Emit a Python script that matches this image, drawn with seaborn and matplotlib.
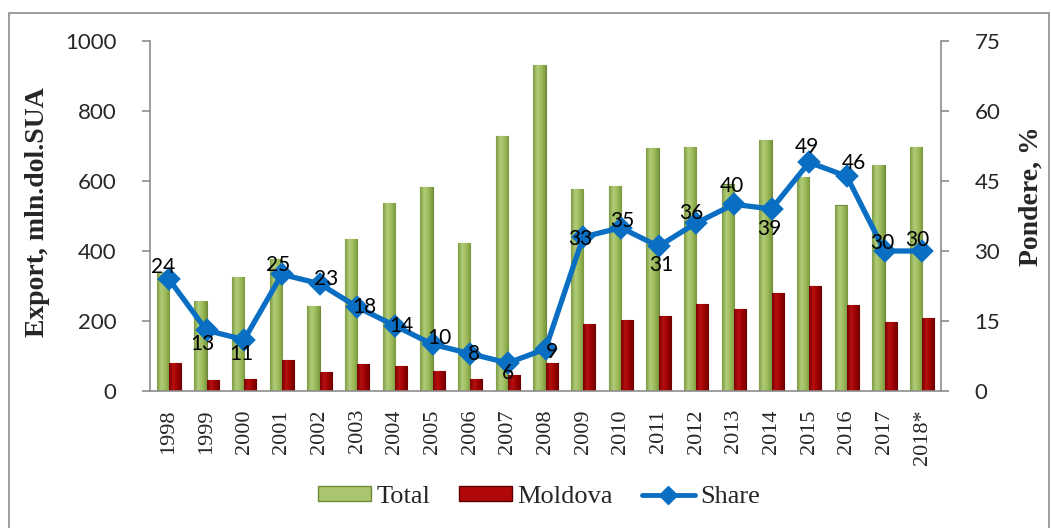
import numpy as np
import pandas as pd
import matplotlib
matplotlib.use("Agg")
import matplotlib.pyplot as plt
from matplotlib.patches import Patch, Rectangle
from matplotlib.lines import Line2D
from matplotlib.colors import LinearSegmentedColormap
import seaborn as sns

# --- data ---
years = ["1998", "1999", "2000", "2001", "2002", "2003", "2004", "2005", "2006", "2007",
         "2008", "2009", "2010", "2011", "2012", "2013", "2014", "2015", "2016", "2017", "2018*"]
total = [340, 257, 327, 378, 243, 433, 536, 582, 424, 729,
         932, 578, 586, 694, 698, 590, 717, 612, 530, 647, 698]
moldova = [79, 31, 34, 90, 55, 76, 71, 58, 33, 45,
           81, 191, 203, 214, 249, 235, 279, 300, 245, 196, 209]
share = [24, 13, 11, 25, 23, 18, 14, 10, 8, 6,
         9, 33, 35, 31, 36, 40, 39, 49, 46, 30, 30]

# label offsets in pixels (dx, dy downwards), style only
label_off = [(-6, -12), (-4, 14), (-3, 14), (-4, -9), (7, -5), (7, 0), (7, 0), (7, -6), (4, 0), (0, 10),
             (6, 3), (-3, 2), (1, -7), (3, 19), (-5, -10), (-2, -18), (-2, 20), (-2, -15), (7, -13), (-2, -8), (-5, -11)]

GREEN = "#9bbb59"
RED = "#a00000"
BLUE = "#0a6fc2"
AXC = "#8c8c8c"

green_cm = LinearSegmentedColormap.from_list("g", ["#7d9c42", "#b2cd7a", "#9bbb59", "#7a983f"])
red_cm = LinearSegmentedColormap.from_list("r", ["#7a0000", "#b81010", "#9a0000", "#6e0000"])

df = pd.DataFrame({"year": years * 2,
                   "value": total + moldova,
                   "series": ["Total"] * len(years) + ["Moldova"] * len(years)})

sns.set_style("white")
plt.rcParams["font.family"] = ["Lato", "DejaVu Sans"]

fig = plt.figure(figsize=(10.51, 5.28), dpi=100)
ax = fig.add_axes([150 / 1051, 137 / 528, 791 / 1051, 350 / 528])

sns.barplot(data=df, x="year", y="value", hue="series", order=years,
            hue_order=["Total", "Moldova"], palette=[GREEN, RED],
            width=0.64, ax=ax, legend=False, saturation=1)

# gradient fill for each bar, clipped to the bar
grad = np.linspace(0, 1, 64).reshape(1, -1)
n = len(years)
for k, p in enumerate(list(ax.patches)):
    cm = green_cm if k < n else red_cm
    p.set_edgecolor("#6f8a3a" if k < n else "#5c0000")
    p.set_linewidth(0.8)
    x0, w, h = p.get_x(), p.get_width(), p.get_height()
    im = ax.imshow(grad, cmap=cm, extent=[x0, x0 + w, 0, h], aspect="auto",
                   zorder=p.get_zorder() + 0.1, interpolation="bicubic")
    im.set_clip_path(p)

ax2 = ax.twinx()
sns.pointplot(x=years, y=share, ax=ax2, color=BLUE, markers="D",
              markersize=9, linewidth=3.8, order=years)
for i, v in enumerate(share):
    dx, dy = label_off[i]
    ax2.annotate(str(v), (i, v), xytext=(dx, -dy), textcoords="offset pixels",
                 ha="center", va="center", fontsize=15, color="black")

ax.set_xlim(-0.5, n - 0.5)
ax.set_ylim(0, 1000)
ax2.set_ylim(0, 75)
ax.set_yticks(range(0, 1001, 200))
ax2.set_yticks(range(0, 76, 15))

# category tick marks between bars
ax.set_xticks(np.arange(n))
ax.set_xticklabels(years, rotation=90, fontsize=16, family="Liberation Serif")
ax.set_xticks(np.arange(n + 1) - 0.5, minor=True)
ax.tick_params(axis="x", which="major", length=0, pad=13)
ax.tick_params(axis="x", which="minor", length=6, color=AXC, width=1.2, direction="out")
ax.tick_params(axis="y", length=6, color=AXC, width=1.2, direction="out", pad=18, labelsize=16)
ax2.tick_params(axis="y", length=6, color=AXC, width=1.2, direction="out", pad=18, labelsize=16)
ax2.tick_params(axis="x", length=0)

for a in (ax, ax2):
    for s in a.spines.values():
        s.set_visible(False)
    a.set_xlabel("")
ax.spines["left"].set_visible(True)
ax.spines["bottom"].set_visible(True)
ax2.spines["right"].set_visible(True)
for s in (ax.spines["left"], ax.spines["bottom"], ax2.spines["right"]):
    s.set_color(AXC)
    s.set_linewidth(1.2)

ax.set_ylabel("Export, mln.dol.SUA", fontsize=20, fontweight="bold", family="Liberation Serif")
ax.yaxis.set_label_coords(-0.126, 0.51)
ax2.set_ylabel("Pondere, %", fontsize=20, fontweight="bold", family="Liberation Serif")
ax2.yaxis.set_label_coords(1.098, 0.557)

handles = [Patch(facecolor="#a9c56e", edgecolor="#6f8a3a"),
           Patch(facecolor="#b00808", edgecolor="#5c0000"),
           Line2D([], [], color=BLUE, lw=3.5, marker="D", markersize=9)]
fig.legend(handles, ["Total", "Moldova", "Share"], loc="center", ncol=3,
           bbox_to_anchor=(539 / 1051, 31 / 528), frameon=False,
           prop={"family": "Liberation Serif", "size": 19},
           handlelength=2.0, handleheight=0.5, handletextpad=0.2, columnspacing=1.1)

fig.patches.append(Rectangle((9 / 1051, -0.01), 1040 / 1051, (515 / 528) + 0.01,
                             transform=fig.transFigure, fill=False,
                             edgecolor="#8c8c8c", linewidth=1.2))

fig.savefig("out.png", dpi=100)
